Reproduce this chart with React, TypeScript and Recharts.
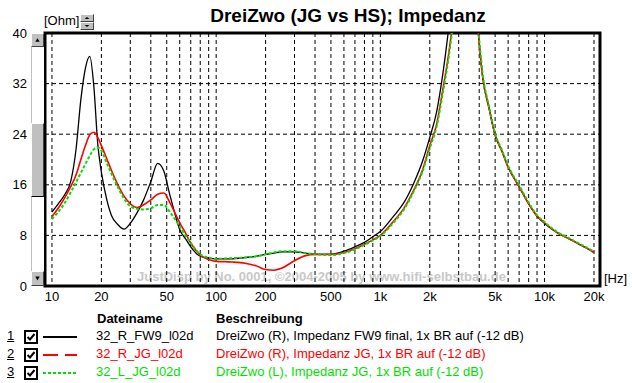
import { LineChart, Line, XAxis, YAxis, CartesianGrid, ReferenceArea } from 'recharts';

// frequency grid (Hz) shared by all three measurements
const FREQ = [
  10, 11, 12, 13, 14, 15, 16, 17, 18, 19, 20, 21.5, 23, 25, 27.5, 30, 33, 36, 40, 44, 48, 52, 56, 60, 65, 70, 80, 90,
  100, 125, 150, 175, 200, 225, 250, 300, 350, 400, 500, 600, 700, 800, 900, 1000, 1200, 1400, 1600, 1800, 2000, 2200,
  2400, 2600, 2800, 3000, 3300, 3600, 3900, 4200, 4600, 5000, 5500, 6000, 7000, 8000, 9000, 10000, 12000, 14000,
  16000, 18000, 20000,
];

// impedance in Ohm
const FW9_R = [
  11.7, 13.1, 14.5, 16.5, 21.5, 29.5, 34.5, 36.3, 31.5, 22.5, 18.0, 13.8, 11.2, 9.8, 9.0, 9.9, 11.6, 13.5, 16.5, 19.4,
  18.2, 14.6, 11.5, 8.9, 7.5, 6.2, 4.7, 4.4, 4.3, 4.3, 4.5, 4.7, 5.0, 5.2, 5.4, 5.4, 5.2, 5.0, 5.0, 5.5, 6.2, 6.9, 7.8,
  8.6, 11.0, 13.3, 16.3, 19.6, 23.5, 27.5, 33.5, 40.5, 48, 55, 62, 58, 42, 33, 28, 23.8, 21.3, 18.8, 15.7, 13.0, 11.0,
  9.9, 8.4, 7.5, 6.7, 6.0, 5.3,
];
const JG_R = [
  11.0, 12.4, 14.0, 15.7, 17.5, 20.0, 22.2, 23.9, 24.3, 23.5, 22.2, 20.2, 18.3, 16.2, 14.2, 13.0, 12.4, 12.8, 13.6,
  14.5, 14.7, 13.3, 11.6, 10.0, 8.4, 6.8, 4.9, 4.2, 3.9, 3.8, 3.6, 3.2, 2.6, 2.5, 2.8, 4.0, 4.8, 5.0, 5.0, 5.3, 5.9,
  6.6, 7.3, 8.0, 10.2, 12.4, 15.2, 18.2, 22.2, 25.5, 31.0, 36.5, 43, 50, 58, 57, 42, 33, 28, 23.9, 21.3, 18.8, 15.7,
  13.0, 11.1, 10.0, 8.4, 7.5, 6.7, 6.0, 5.3,
];
const JG_L = [
  10.6, 11.8, 13.2, 14.8, 16.4, 17.9, 19.3, 20.6, 21.6, 21.9, 21.4, 19.5, 17.8, 15.8, 13.8, 12.6, 12.2, 12.1, 12.3,
  12.8, 12.8, 11.8, 10.6, 9.4, 8.0, 6.8, 5.0, 4.5, 4.3, 4.4, 4.5, 4.7, 5.0, 5.3, 5.5, 5.5, 5.2, 5.0, 4.9, 5.2, 5.8,
  6.5, 7.2, 7.9, 10.0, 12.2, 15.0, 18.0, 21.8, 25.2, 30.5, 36, 42.5, 50, 58, 57, 42.5, 33.5, 28.3, 24.1, 21.5, 19.0,
  15.9, 13.2, 11.2, 10.1, 8.5, 7.6, 6.8, 6.1, 5.4,
];

const X_GRID = [
  10, 20, 30, 40, 50, 60, 70, 80, 90, 100, 200, 300, 400, 500, 600, 700, 800, 900, 1000, 2000, 3000, 4000, 5000, 6000,
  7000, 8000, 9000, 10000, 20000,
];
const X_LABELS: Record<number, string> = {
  10: '10', 20: '20', 50: '50', 100: '100', 200: '200', 500: '500',
  1000: '1k', 2000: '2k', 5000: '5k', 10000: '10k', 20000: '20k',
};
const Y_TICKS = [0, 8, 16, 24, 32, 40];

const FILE_NAMES = ['32_R_FW9_l02d', '32_R_JG_l02d', '32_L_JG_l02d'];
const DESCRIPTIONS = [
  'DreiZwo (R), Impedanz FW9 final, 1x BR auf (-12 dB)',
  'DreiZwo (R), Impedanz JG, 1x BR auf (-12 dB)',
  'DreiZwo (L), Impedanz JG, 1x BR auf (-12 dB)',
];
const COLORS = ['#000000', '#ff0000', '#00e000'];
const DASHES = ['', '15 7', '3 2'];
const KEYS = ['fw9', 'jgR', 'jgL'];

const X_MIN = 9.07;
const X_MAX = 21760;
const FONT = '"Liberation Sans", Arial, sans-serif';

const data = FREQ.map((f, i) => ({ f, fw9: FW9_R[i], jgR: JG_R[i], jgL: JG_L[i] }));

function ArrowButton({ up, style }: { up: boolean; style: React.CSSProperties }) {
  return (
    <div
      style={{
        position: 'absolute',
        background: '#c0c0c0',
        boxSizing: 'border-box',
        borderTop: '1px solid #fff',
        borderLeft: '1px solid #fff',
        borderRight: '1px solid #404040',
        borderBottom: '1px solid #404040',
        ...style,
      }}
    >
      <svg width="100%" height="100%" style={{ display: 'block' }} viewBox="0 0 10 10" preserveAspectRatio="none">
        <path d={up ? 'M3 6.5 L5 3.5 L7 6.5 Z' : 'M3 3.5 L5 6.5 L7 3.5 Z'} fill="#000" />
      </svg>
    </div>
  );
}

function CheckBox() {
  return (
    <svg width={14} height={14} style={{ display: 'block' }}>
      <rect x={1} y={1} width={12} height={12} fill="#fff" stroke="#000" strokeWidth={2} />
      <path d="M3.5 7 L6 9.5 L10.5 4" fill="none" stroke="#000" strokeWidth={2} />
    </svg>
  );
}

export default function App() {
  return (
    <div
      style={{
        position: 'absolute',
        left: 0,
        top: 0,
        width: 632,
        height: 383,
        background: '#fff',
        fontFamily: FONT,
        color: '#000',
        overflow: 'hidden',
      }}
    >
      <div
        style={{
          position: 'absolute',
          left: 0,
          width: 696,
          top: 5,
          textAlign: 'center',
          fontSize: 19,
          fontWeight: 'bold',
          whiteSpace: 'nowrap',
        }}
      >
        DreiZwo (JG vs HS); Impedanz
      </div>
      <div style={{ position: 'absolute', left: 44, top: 13, fontSize: 13 }}>[Ohm]</div>
      <ArrowButton up style={{ left: 80, top: 14, width: 14, height: 8 }} />
      <ArrowButton up={false} style={{ left: 80, top: 22, width: 14, height: 8 }} />

      {/* watermark, sits under the plot */}
      <div
        style={{
          position: 'absolute',
          left: 137,
          top: 269,
          fontSize: 13,
          fontWeight: 'bold',
          color: '#c8c8c8',
          whiteSpace: 'nowrap',
        }}
      >
        JustDisp by No. 0001, ©2004-2005 by www.hifi-selbstbau.de
      </div>

      <div style={{ position: 'absolute', left: 0, top: 0 }}>
        <LineChart width={632} height={383} data={data} margin={{ top: 33, right: 32, bottom: 0, left: 0 }}>
          <CartesianGrid stroke="#000" strokeDasharray="4 3" horizontalValues={[8, 16, 24, 32]} verticalValues={X_GRID} />
          <XAxis
            dataKey="f"
            type="number"
            scale="log"
            domain={[X_MIN, X_MAX]}
            allowDataOverflow
            ticks={X_GRID}
            interval={0}
            tickFormatter={(v: number) => X_LABELS[v] ?? ''}
            height={97}
            axisLine={false}
            tickLine={false}
            tickSize={0}
            tickMargin={6}
            tick={{ fill: '#000', fontSize: 13, fontFamily: FONT }}
          />
          <YAxis
            type="number"
            domain={[0, 40]}
            allowDataOverflow
            ticks={Y_TICKS}
            interval={0}
            width={45}
            axisLine={false}
            tickLine={false}
            tickSize={0}
            tickMargin={18}
            tick={{ fill: '#000', fontSize: 13, fontFamily: FONT }}
          />
          {KEYS.map((k, i) => (
            <Line
              key={k}
              type="monotone"
              dataKey={k}
              stroke={COLORS[i]}
              strokeWidth={i === 0 ? 1.3 : i === 1 ? 1.6 : 2}
              strokeDasharray={i === 2 ? '3 2' : undefined}
              dot={false}
              activeDot={false}
              isAnimationActive={false}
            />
          ))}
          <ReferenceArea x1={X_MIN} x2={X_MAX} y1={0} y2={40} fill="none" fillOpacity={0} stroke="#000" strokeWidth={3} />
        </LineChart>
      </div>

      {/* vertical scrollbar next to the y axis */}
      <div
        style={{
          position: 'absolute',
          left: 31,
          top: 33,
          width: 13,
          height: 253,
          background: '#fff',
          boxSizing: 'border-box',
          borderLeft: '1px solid #c0c0c0',
        }}
      />
      <ArrowButton up style={{ left: 31, top: 33, width: 13, height: 14 }} />
      <div
        style={{
          position: 'absolute',
          left: 31,
          top: 123,
          width: 13,
          height: 74,
          background: '#c0c0c0',
          boxSizing: 'border-box',
          borderTop: '1px solid #fff',
          borderLeft: '1px solid #fff',
          borderRight: '1px solid #404040',
          borderBottom: '1px solid #000',
        }}
      />
      <ArrowButton up={false} style={{ left: 31, top: 271, width: 13, height: 15 }} />

      <div style={{ position: 'absolute', left: 604, top: 271, fontSize: 13 }}>[Hz]</div>

      {/* legend table */}
      <div style={{ position: 'absolute', left: 97, top: 311, fontSize: 13, fontWeight: 'bold' }}>Dateiname</div>
      <div style={{ position: 'absolute', left: 216, top: 311, fontSize: 13, fontWeight: 'bold' }}>Beschreibung</div>
      {FILE_NAMES.map((name, i) => {
        const top = 328 + i * 18;
        return (
          <div key={name}>
            <div style={{ position: 'absolute', left: 7, top, fontSize: 13, textDecoration: 'underline' }}>{i + 1}</div>
            <div style={{ position: 'absolute', left: 24, top: top + 2 }}>
              <CheckBox />
            </div>
            <svg width={34} height={6} style={{ position: 'absolute', left: 43, top: top + 6 }}>
              <line
                x1={0}
                y1={3}
                x2={34}
                y2={3}
                stroke={COLORS[i]}
                strokeWidth={2}
                strokeDasharray={DASHES[i] || undefined}
              />
            </svg>
            <div style={{ position: 'absolute', left: 96, top, fontSize: 13, color: COLORS[i] }}>{name}</div>
            <div style={{ position: 'absolute', left: 216, top, fontSize: 13, color: COLORS[i], whiteSpace: 'nowrap' }}>
              {DESCRIPTIONS[i]}
            </div>
          </div>
        );
      })}
    </div>
  );
}
